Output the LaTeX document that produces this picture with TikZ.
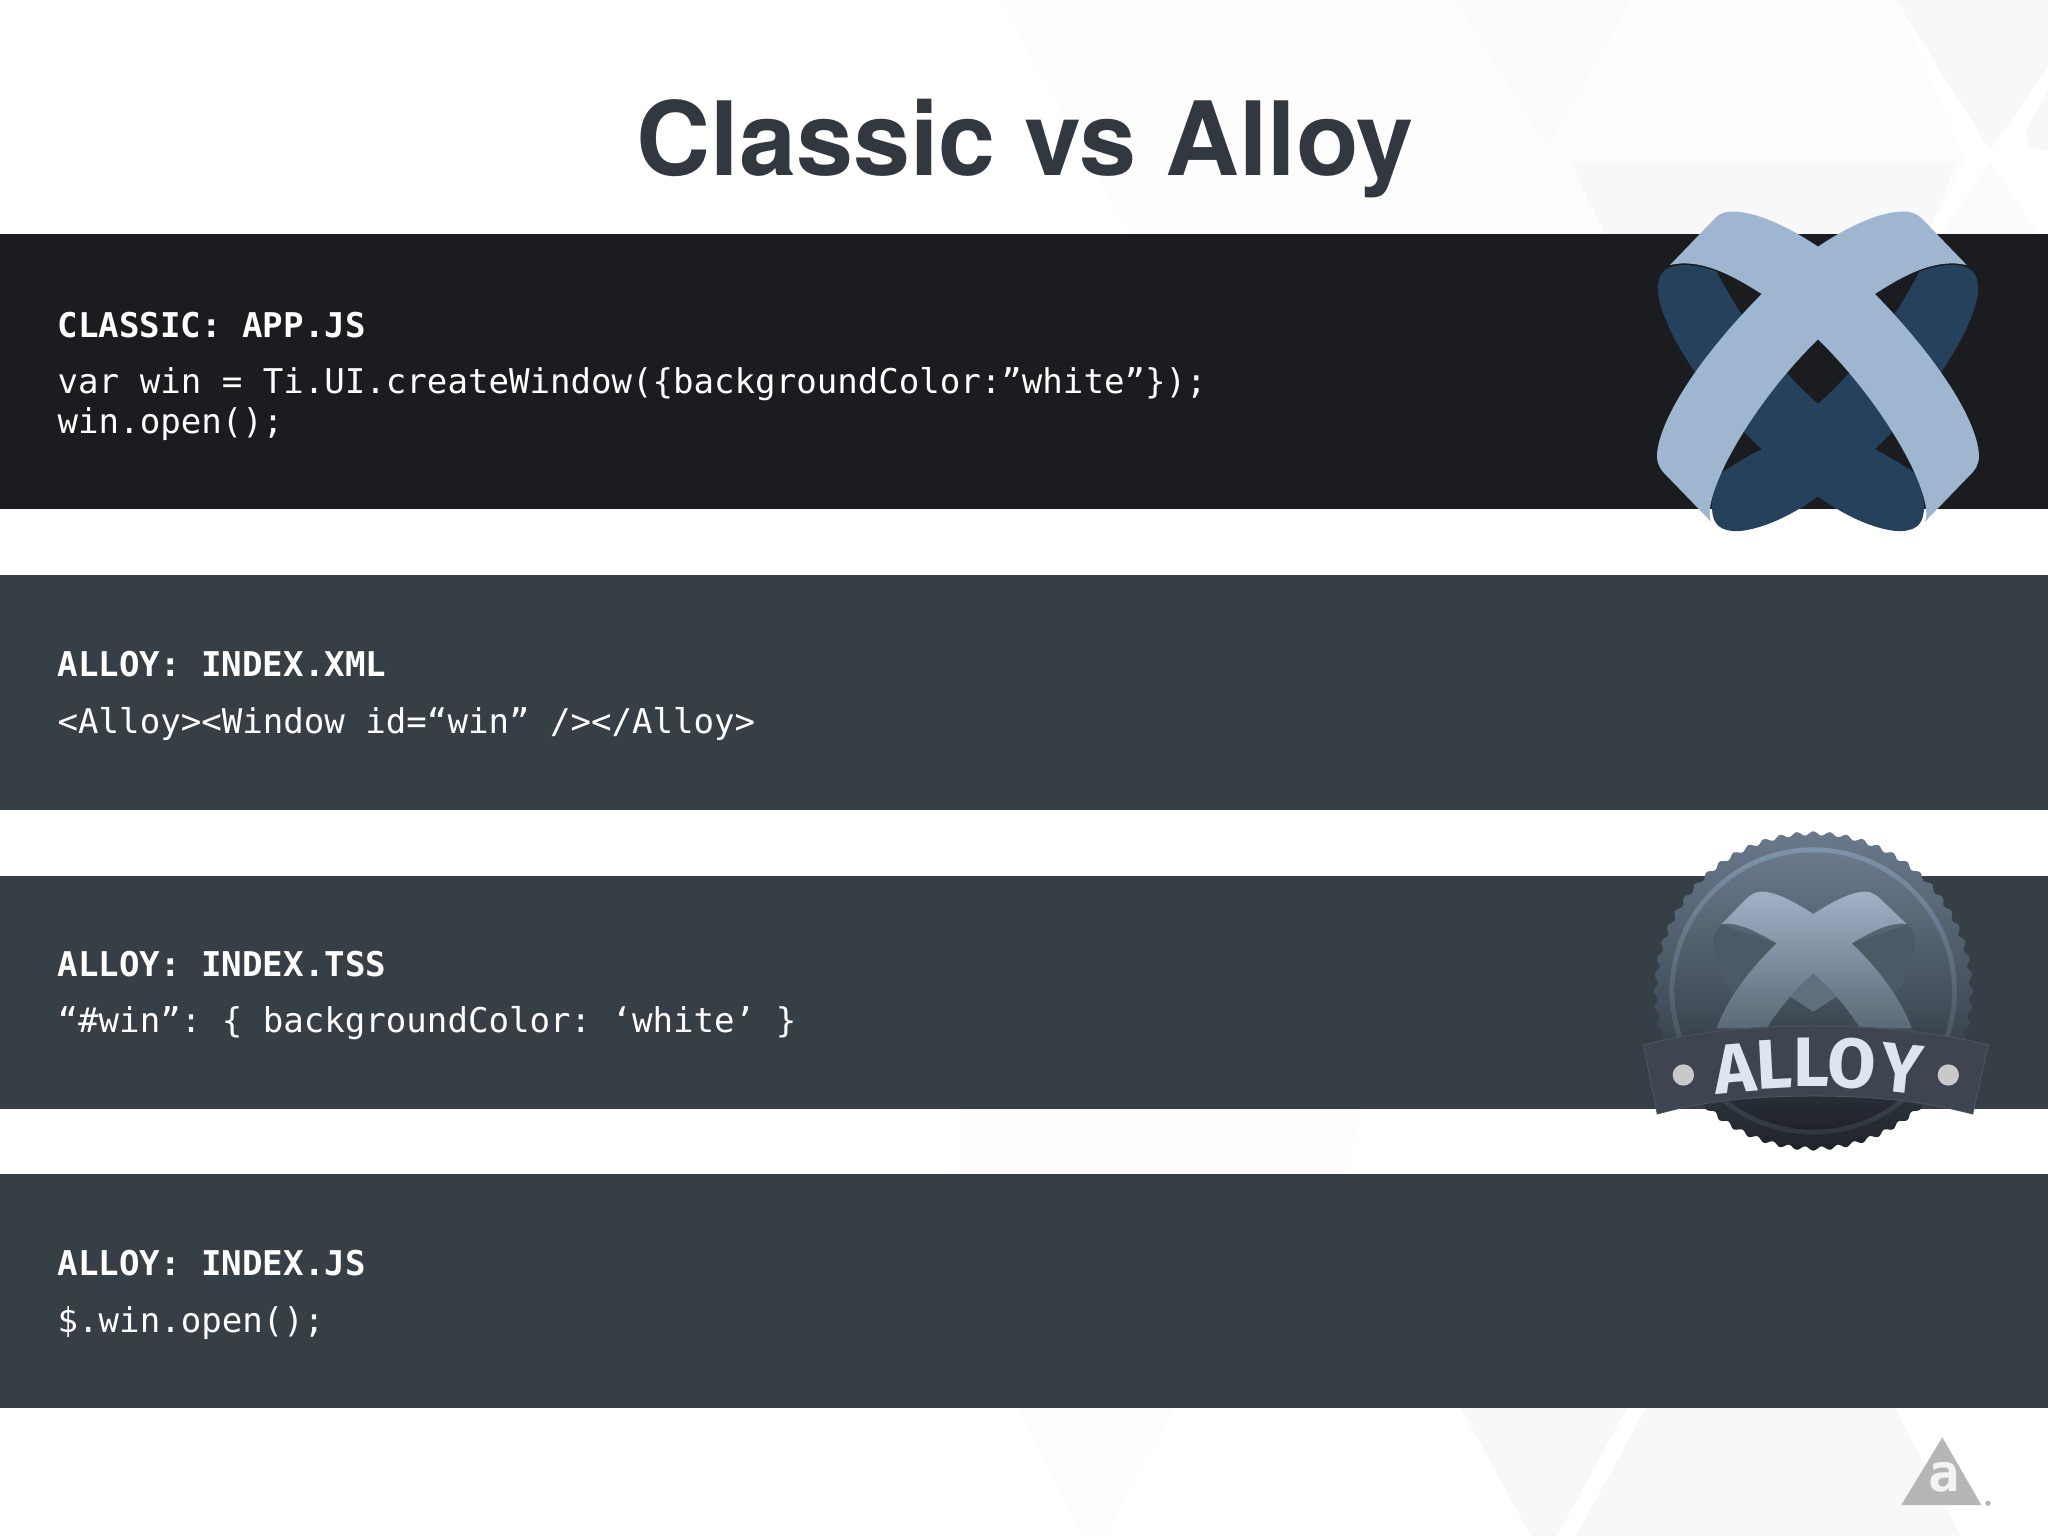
\documentclass[tikz,border=0pt]{standalone}
\usepackage{fontspec}
\setmainfont{TeX Gyre Heros}
\newfontfamily\codefont{DejaVu Sans Mono}
\newfontfamily\badgefont{Fira Sans}
\usetikzlibrary{calc}
\definecolor{barblack}{HTML}{1A1C1F}
\definecolor{barslate}{HTML}{373F46}
\definecolor{titleink}{HTML}{31383F}
\definecolor{lightband}{HTML}{9EB6CF}
\definecolor{darkband}{HTML}{25415C}
\definecolor{badgeink}{HTML}{DFE5EE}
\definecolor{gearTop}{HTML}{6A7A8C}
\definecolor{gearMid}{HTML}{46535E}
\definecolor{gearBot}{HTML}{1F2329}
\definecolor{ringTop}{HTML}{7F94AB}
\definecolor{ringBot}{HTML}{2F363E}
\definecolor{xTop}{HTML}{A2B0C6}
\definecolor{xBot}{HTML}{5B6A78}
\definecolor{lobe}{HTML}{4C5A66}
\definecolor{lobeb}{HTML}{5F6F7E}
\definecolor{ribbon}{HTML}{3E4450}
\definecolor{ribbonedge}{HTML}{4C535E}
\definecolor{dotgrey}{HTML}{C9C9C9}
\definecolor{markgrey}{HTML}{B6B6B8}
\definecolor{markink}{HTML}{F3F3F5}
\definecolor{tintA}{HTML}{FBFBFC}
\definecolor{tintB}{HTML}{F8F8F9}
\definecolor{tintC}{HTML}{FDFDFE}
\definecolor{tintD}{HTML}{F8F7FA}
\definecolor{tintE}{HTML}{FDFCFE}
\tikzset{
  bar/.style={fill=#1,draw=none},
  codehead/.style={anchor=base west,inner sep=0pt,text=white,font=\codefont\bfseries\fontsize{34.1}{34.1}\selectfont},
  codeline/.style={anchor=base west,inner sep=0pt,text=white,font=\codefont\fontsize{34.08}{34.08}\selectfont\frenchspacing},
  badgeletter/.style={inner sep=0pt,text=badgeink,font=\badgefont\bfseries\fontsize{70}{70}\selectfont},
}
\begin{document}
\begin{tikzpicture}[x=1pt,y=-1pt]
\useasboundingbox (0,0) rectangle (2048,1536);
\fill[white] (0,0) rectangle (2048,1536);
% faint background
\fill[tintC] (1000,0) -- (1896,0) -- (1965,160) -- (1930,234) -- (1130,234) -- cycle;
\fill[tintA] (1455,0) -- (1630,0) -- (1548,147) -- cycle;
\fill[tintB] (1896,0) -- (2048,0) -- (2048,67) -- (1990,150) -- cycle;
\fill[tintB] (2048,90) -- (2025,133) -- (2030,147) -- (2048,152) -- cycle;
\fill[tintB] (1571,163) -- (1956,163) -- (1928,234) -- (1605,234) -- cycle;
\fill[tintA] (1990,163) -- (1941,234) -- (2038,234) -- cycle;
\fill[tintE] (959,1110) -- (1361,1110) -- (1345,1172) -- (959,1172) -- cycle;
\fill[tintE] (1018,1408) -- (1174,1408) -- (1104,1536) -- (1082,1536) -- cycle;
\fill[tintD] (1461,1408) -- (1627,1408) -- (1557,1536) -- (1531,1536) -- cycle;
\fill[tintD] (1646,1408) -- (1895,1408) -- (1961,1536) -- (1576,1536) -- cycle;
% bars
\fill[bar=barblack] (0,234) rectangle (2048,509);
\fill[bar=barslate] (0,575) rectangle (2048,810);
\fill[bar=barslate] (0,876) rectangle (2048,1109);
\fill[bar=barslate] (0,1174) rectangle (2048,1408);
% title
\node[anchor=base west,inner sep=0pt,text=titleink,font=\bfseries\fontsize{102.5}{102.5}\selectfont] (title) at (636.5,175.5) {Classic vs Alloy};
% text
\node[codehead] (h1) at (57.5,337) {CLASSIC: APP.JS};
\node[codeline] (c1a) at (57.5,393) {var win = Ti.UI.createWindow(\{backgroundColor:”white”\});};
\node[codeline] (c1b) at (57.5,433) {win.open();};
\node[codehead] (h2) at (57.5,676) {ALLOY: INDEX.XML};
\node[codeline] (c2) at (57.5,733) {<Alloy><Window id=“win” /></Alloy>};
\node[codehead] (h3) at (57.5,976) {ALLOY: INDEX.TSS};
\node[codeline] (c3) at (57.5,1032) {“\#win”: \{ backgroundColor: ‘white’ \}};
\node[codehead] (h4) at (57.5,1275) {ALLOY: INDEX.JS};
\node[codeline] (c4) at (57.5,1332) {\$.win.open();};
% titanium X logo
\begin{scope}[shift={(1620,190)},x=0.3333pt,y=-0.3333pt]
\fill[darkband] (594,642) .. controls (480,540) and (370,400) .. (290,245)
  .. controls (240,225) and (170,215) .. (135,240)
  .. controls (110,260) and (110,300) .. (120,340)
  .. controls (160,480) and (290,650) .. (425,778)
  .. controls (380,800) and (340,825) .. (305,848)
  .. controls (285,880) and (270,930) .. (278,975)
  .. controls (285,1015) and (320,1028) .. (370,1022)
  .. controls (450,1010) and (530,965) .. (594,920)
  .. controls (658,965) and (738,1010) .. (818,1022)
  .. controls (868,1028) and (903,1015) .. (910,975)
  .. controls (918,930) and (903,880) .. (883,848)
  .. controls (848,825) and (808,800) .. (765,778)
  .. controls (898,650) and (1028,480) .. (1068,340)
  .. controls (1078,300) and (1078,260) .. (1053,240)
  .. controls (1018,215) and (948,225) .. (898,245)
  .. controls (818,400) and (708,540) .. (594,642) -- cycle;
\fill[lightband] (594,170) .. controls (660,125) and (760,70) .. (840,65)
  .. controls (870,63) and (890,70) .. (905,85)
  -- (1040,225)
  .. controls (950,205) and (860,250) .. (765,312)
  .. controls (900,450) and (1050,640) .. (1075,775)
  .. controls (1080,810) and (1075,825) .. (1060,845)
  -- (915,995)
  .. controls (945,920) and (800,650) .. (594,448)
  .. controls (388,650) and (243,920) .. (273,995)
  -- (128,845)
  .. controls (113,825) and (108,810) .. (113,775)
  .. controls (138,640) and (288,450) .. (425,312)
  .. controls (328,250) and (238,205) .. (150,225)
  -- (285,85)
  .. controls (298,70) and (318,63) .. (348,65)
  .. controls (428,70) and (528,125) .. (594,170) -- cycle;
\end{scope}
% alloy badge
\begin{scope}[shift={(1620,810)},x=0.3333pt,y=-0.3333pt]
\shade[top color=gearTop,bottom color=gearBot,middle color=gearMid]
  plot[domain=0:360,samples=721,variable=\t] ({580+(473+6*cos(60*mod(\t,6)))*cos(\t)},{543+(473+6*cos(60*mod(\t,6)))*sin(\t)}) -- cycle;
\shade[top color=ringTop,bottom color=ringBot] (580,543) circle[radius=431pt*0.3333];
\shade[top color=gearTop,bottom color=gearBot,middle color=gearMid] (580,543) circle[radius=416pt*0.3333];
% back lobes
\fill[lobe] (305,345) .. controls (270,370) and (275,420) .. (300,480)
  .. controls (320,530) and (330,540) .. (345,560) -- (470,400) -- cycle;
\fill[lobe] (860,345) .. controls (895,370) and (890,420) .. (865,480)
  .. controls (845,530) and (835,540) .. (820,560) -- (695,400) -- cycle;
\fill[lobeb] (580,490) -- (650,560) -- (580,605) -- (510,560) -- cycle;
\shade[top color=xTop,bottom color=xBot]
  (580,312) .. controls (630,280) and (690,245) .. (735,245)
  .. controls (755,245) and (770,255) .. (785,270)
  -- (860,342)
  .. controls (810,335) and (755,365) .. (695,400)
  .. controls (780,480) and (850,580) .. (875,655)
  -- (720,655)
  .. controls (680,590) and (630,535) .. (580,490)
  .. controls (530,535) and (480,590) .. (440,655)
  -- (290,655)
  .. controls (315,580) and (385,480) .. (470,400)
  .. controls (410,365) and (355,335) .. (305,342)
  -- (375,270)
  .. controls (390,255) and (405,245) .. (425,245)
  .. controls (470,245) and (530,280) .. (580,312) -- cycle;
% ribbon
\filldraw[fill=ribbon,draw=ribbonedge,line width=1pt] (70,705) .. controls (250,660) and (420,648) .. (580,648)
  .. controls (740,648) and (920,660) .. (1105,705)
  -- (1058,912)
  .. controls (900,870) and (740,858) .. (580,858)
  .. controls (420,858) and (260,870) .. (112,912) -- cycle;
\fill[dotgrey] (190,795) circle[radius=32pt*0.3333];
\fill[dotgrey] (985,795) circle[radius=32pt*0.3333];
\node[badgeletter,rotate=5] (la) at (345,775) {A};
\node[badgeletter,rotate=3] (lb) at (462,762) {L};
\node[badgeletter,rotate=0] (lc) at (575,757) {L};
\node[badgeletter,rotate=-3] (ld) at (695,762) {O};
\node[badgeletter,rotate=-6] (le) at (845,775) {Y};
\end{scope}
% appcelerator mark
\begin{scope}[shift={(1848,1400)},x=0.3333pt,y=-0.3333pt]
\fill[markgrey] (283,112) -- (400,315) -- (160,315) -- cycle;
\node[inner sep=0pt,text=markink,font=\codefont\bfseries\fontsize{52}{52}\selectfont] (marka) at (287,232) {a};
\fill[markgrey] (420,310) circle[radius=8pt*0.3333];
\end{scope}
\end{tikzpicture}
\end{document}
